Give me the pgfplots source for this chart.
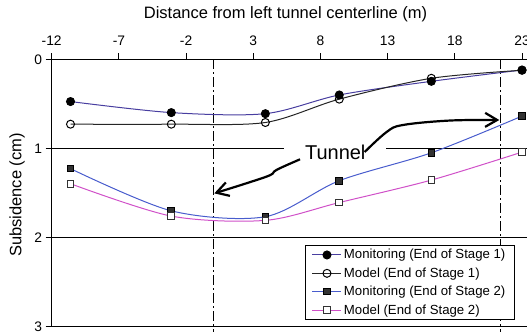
\documentclass[border=0pt]{standalone}
\usepackage{fontspec}
\setmainfont{Liberation Sans}
\usepackage{pgfplots}
\pgfplotsset{compat=1.18}
\usetikzlibrary{arrows.meta}

\definecolor{monone}{RGB}{72,62,160}
\definecolor{montwo}{RGB}{72,92,205}
\definecolor{modtwo}{RGB}{208,80,200}
\definecolor{sqfill}{RGB}{50,50,50}

\begin{document}
\begin{tikzpicture}
\useasboundingbox (-51.7pt,-5.3pt) rectangle (475.3pt,326.7pt);
\begin{axis}[
  at={(0pt,0pt)}, anchor=south west,
  scale only axis, width=475.3pt, height=267.4pt,
  xmin=-12, xmax=23.37, ymin=0, ymax=3, y dir=reverse,
  axis x line=box, axis y line=left,
  axis line style={-, line width=1.5pt},
  xtick={-12,-7,-2,3,8,13,18,23},
  xticklabels={-12,-7,-2,3,8,13,18,23},
  ytick={0,1,2,3}, yticklabels={0,1,2,3},
  xtick pos=right, xticklabel pos=right,
  ytick pos=left,
  tick align=outside, major tick length=6pt,
  tick style={black, line width=0.8pt},
  ymajorgrids, grid style={black, line width=0.9pt},
  tick label style={font=\fontsize{13.8}{16}\selectfont},
  xticklabel style={yshift=4pt},
  label style={font=\fontsize{16.5}{19}\selectfont},
  xlabel={Distance from left tunnel centerline (m)},
  xlabel style={at={(axis description cs:0.492,1)}, anchor=center, yshift=45pt},
  ylabel={Subsidence (cm)},
  ylabel style={at={(axis description cs:-0.073,0.4925)}, anchor=center},
  clip=false,
  legend cell align=left,
  legend style={at={(axis description cs:0.9733,0.0251)}, anchor=south east,
    draw=black, line width=0.8pt, fill=white,
    font=\fontsize{13.2}{15}\selectfont,
    inner xsep=6.5pt, inner ysep=2pt, row sep=3.3pt},
  legend image code/.code={\draw[mark repeat=2, mark phase=2]
    plot coordinates {(0pt,0pt) (14.5pt,0pt) (29pt,0pt)};},
]

% tunnel centerlines
\draw[black, line width=0.9pt, dash pattern=on 10pt off 3pt on 2pt off 3pt]
  (axis cs:0,0) -- (axis cs:0,3.06);
\draw[black, line width=0.9pt, dash pattern=on 10pt off 3pt on 2pt off 3pt]
  (axis cs:21.4,0) -- (axis cs:21.4,3.06);

\addplot[monone, line width=1pt, smooth, mark=*, mark size=4pt,
  mark options={fill=black, draw=black, solid}]
  coordinates {(-10.6,0.474) (-3.1,0.598) (3.9,0.61) (9.4,0.40) (16.25,0.247) (23,0.12)};
\addlegendentry{Monitoring (End of Stage 1)}

\addplot[black!85, line width=1pt, smooth, mark=o, mark size=4pt,
  mark options={fill=white, draw=black, solid}]
  coordinates {(-10.6,0.728) (-3.1,0.728) (3.9,0.709) (9.4,0.447) (16.25,0.213) (23,0.123)};
\addlegendentry{Model (End of Stage 1)}

\addplot[montwo, line width=1pt, smooth, mark=square*, mark size=3.3pt,
  mark options={fill=sqfill, draw=black, solid}]
  coordinates {(-10.6,1.227) (-3.1,1.70) (3.9,1.766) (9.4,1.362) (16.25,1.049) (23,0.637)};
\addlegendentry{Monitoring (End of Stage 2)}

\addplot[modtwo, line width=1pt, smooth, mark=square*, mark size=3.3pt,
  mark options={fill=white, draw=black!80, solid}]
  coordinates {(-10.6,1.396) (-3.1,1.759) (3.9,1.807) (9.4,1.607) (16.25,1.355) (23,1.041)};
\addlegendentry{Model (End of Stage 2)}

% label with arrows pointing at both tunnels
\node[fill=white, inner xsep=21pt, inner ysep=3pt, font=\fontsize{20}{24}\selectfont]
  at (axis cs:9.1,1.046) {Tunnel};
\draw[black, line width=2.2pt, -{Straight Barb[length=12pt, width=14pt]}]
  plot[smooth, tension=0.6] coordinates {(axis cs:6.48,1.122) (axis cs:4.74,1.24)
    (axis cs:4.25,1.30) (axis cs:2.51,1.39) (axis cs:0.10,1.504)};
\draw[black, line width=2.2pt, -{Straight Barb[length=12pt, width=14pt]}]
  plot[smooth, tension=0.6] coordinates {(axis cs:11.29,1.04) (axis cs:12.92,0.816)
    (axis cs:14.14,0.737) (axis cs:17.64,0.687) (axis cs:21.31,0.681)};
\end{axis}
\end{tikzpicture}
\end{document}
